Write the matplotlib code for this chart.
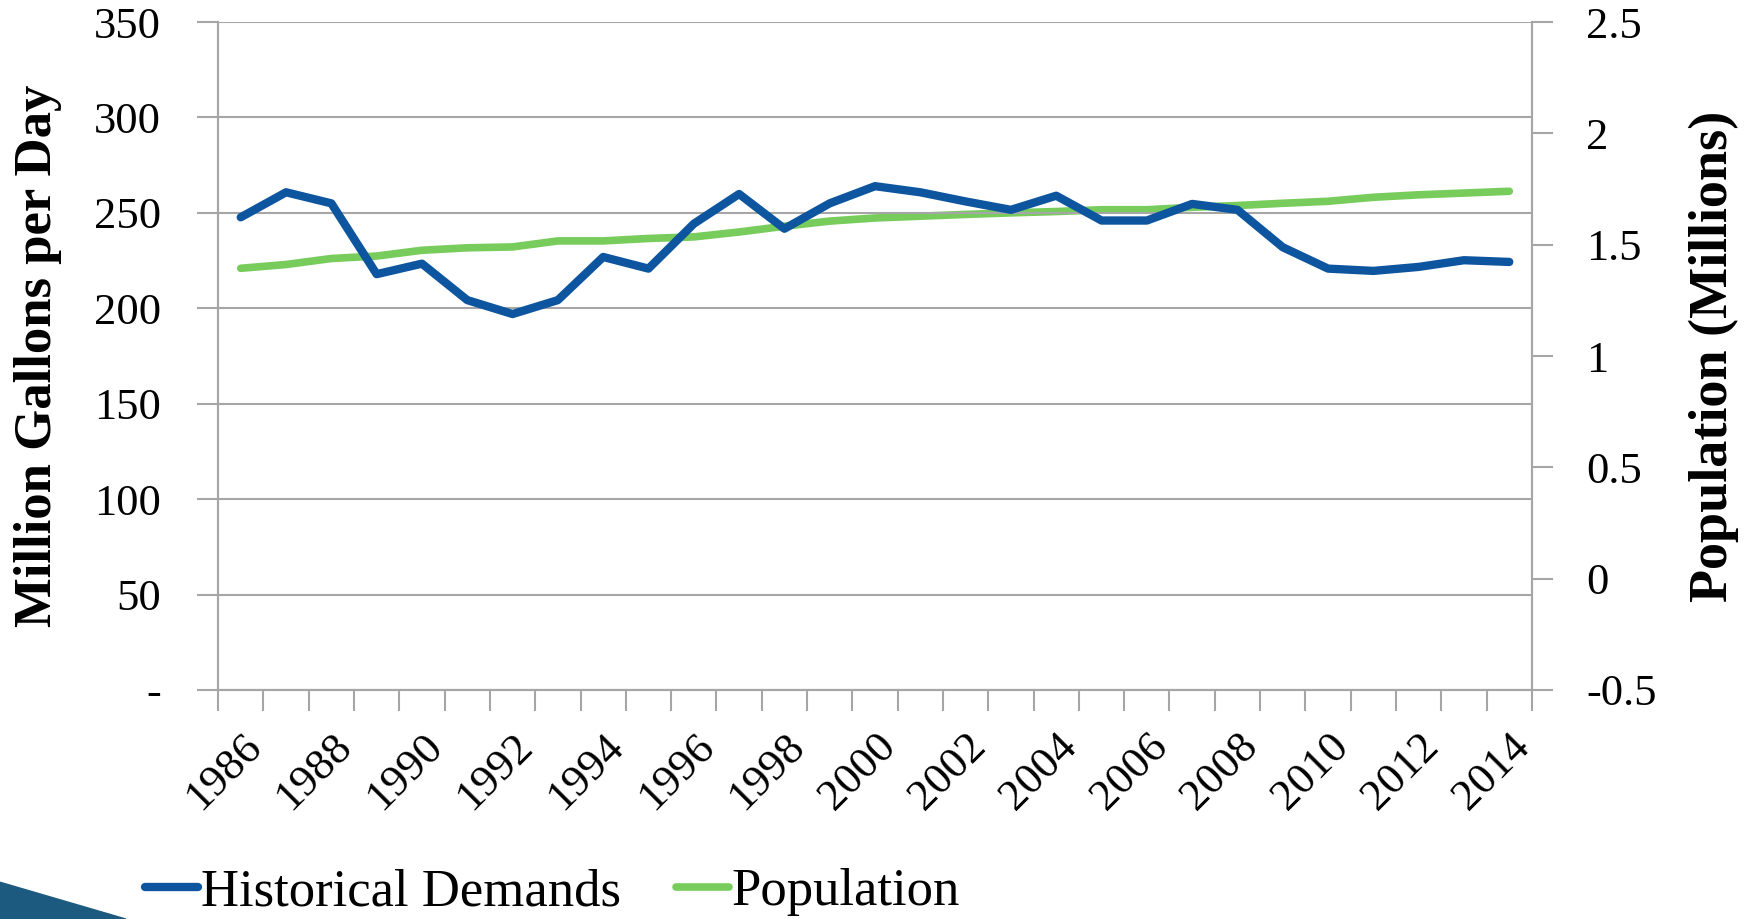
import numpy as np
import matplotlib.pyplot as plt
from matplotlib.patches import Polygon

years = list(range(1986, 2015))
demand = [247.7, 260.8, 255.0, 217.9, 223.4, 204.3, 197.0, 204.3, 226.9, 220.8,
          244.3, 259.9, 241.7, 255.0, 264.0, 260.8, 256.0, 251.6, 259.0, 246.0,
          246.0, 254.7, 251.6, 232.0, 220.8, 219.6, 221.7, 225.2, 224.3]
population = [1.394, 1.411, 1.438, 1.449, 1.475, 1.486, 1.490, 1.517, 1.517, 1.528,
              1.535, 1.557, 1.583, 1.606, 1.620, 1.628, 1.636, 1.643, 1.649, 1.657,
              1.657, 1.668, 1.676, 1.686, 1.695, 1.713, 1.724, 1.732, 1.740]
left_ticks = [0, 50, 100, 150, 200, 250, 300, 350]
left_labels = ['-', '50', '100', '150', '200', '250', '300', '350']
right_ticks = [-0.5, 0, 0.5, 1, 1.5, 2, 2.5]
right_labels = ['-0.5', '0', '0.5', '1', '1.5', '2', '2.5']

plt.rcParams['font.family'] = ['Liberation Serif', 'DejaVu Serif']
gray = '#a6a6a6'
blue = '#0d559f'
green = '#77cc5c'

fig = plt.figure(figsize=(17.46, 9.19), dpi=100)
ax = fig.add_axes([0.1249, 0.2492, 0.7525, 0.7268])
ax2 = ax.twinx()

x = np.arange(len(years))
l1, = ax.plot(x, demand, color=blue, lw=6, solid_capstyle='round', solid_joinstyle='round', zorder=3)
l2, = ax2.plot(x, population, color=green, lw=5.5, solid_capstyle='round', solid_joinstyle='round', zorder=2)
ax.set_zorder(ax2.get_zorder() + 1)
ax.patch.set_visible(False)

ax.set_xlim(-0.5, len(years) - 0.5)
ax.set_ylim(0, 350)
ax2.set_ylim(-0.5, 2.5)

ax.set_yticks(left_ticks)
ax.set_yticklabels(left_labels, fontsize=32)
ax2.set_yticks(right_ticks)
ax2.set_yticklabels(right_labels, fontsize=32)

ax.set_xticks(np.arange(len(years) + 1) - 0.5)
ax.set_xticklabels([])
ax.set_xticks(x[::2], minor=True)
ax.set_xticklabels([str(y) for y in years[::2]], minor=True, rotation=45,
                   ha='right', va='top', rotation_mode='anchor', fontsize=32)
ax.tick_params(axis='x', which='major', length=15, width=1.5, color=gray, direction='out')
ax.tick_params(axis='x', which='minor', length=0, pad=26)
ax.tick_params(axis='y', length=15, width=1.5, color=gray, pad=26)
ax2.tick_params(axis='y', length=15, width=1.5, color=gray, pad=24)

ax.grid(axis='y', color=gray, lw=1.5)
for a in (ax, ax2):
    a.spines['top'].set_visible(False)
    for s in ('left', 'right', 'bottom'):
        a.spines[s].set_color(gray)
        a.spines[s].set_linewidth(1.5)

ax.set_ylabel('Million Gallons per Day', fontsize=38, fontweight='bold', labelpad=23)
ax2.set_ylabel('Population (Millions)', fontsize=39, fontweight='bold', labelpad=23)

fig.legend([l1, l2], ['Historical Demands', 'Population'], loc='center left',
           bbox_to_anchor=(0.068, 1 - 892 / 919), ncol=2, frameon=False, fontsize=38,
           handlelength=1.0, handletextpad=0.05, columnspacing=1.05, borderpad=0)

# slide decoration in the lower left corner
fig.patches.append(Polygon([[0, 0], [0, 0.04], [0.072, 0]], closed=True,
                           transform=fig.transFigure, color='#1d5a80', zorder=0))

fig.savefig('out.png', dpi=100)
